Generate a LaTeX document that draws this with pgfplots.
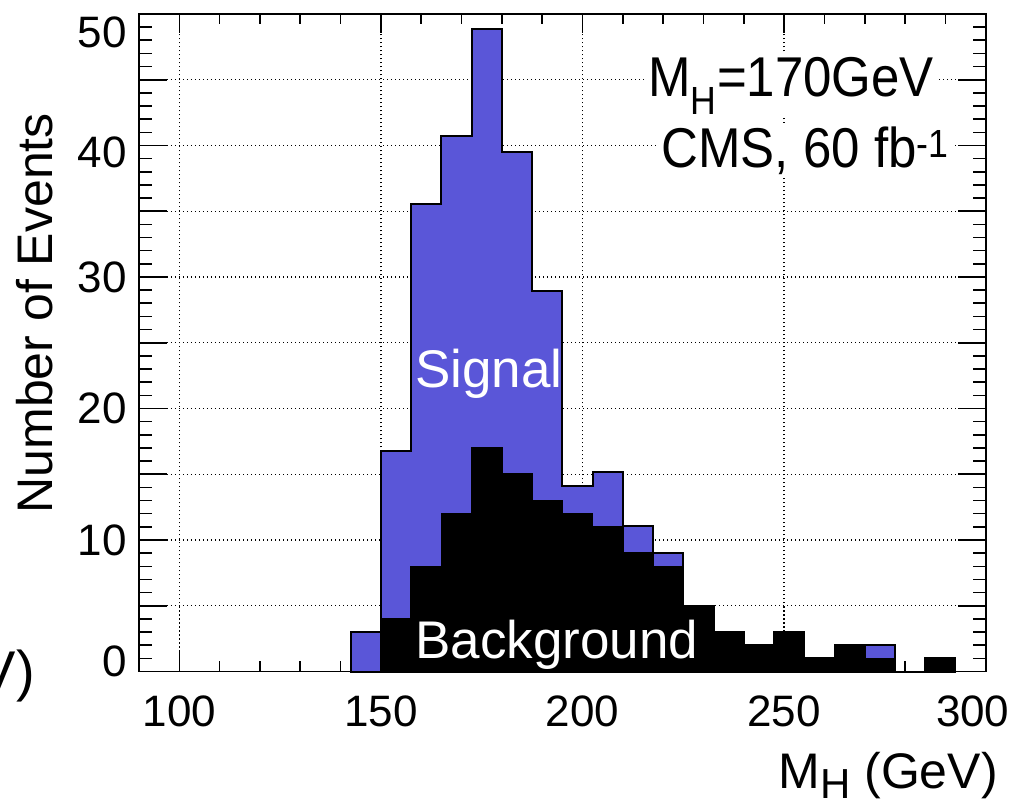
\documentclass[border=0pt]{standalone}
\usepackage{fontspec}
\setmainfont{Liberation Sans}
\usepackage{pgfplots}
\pgfplotsset{compat=1.18}
\definecolor{sigblue}{RGB}{90,86,216}

\begin{document}
\begin{tikzpicture}
\begin{axis}[
  name=ax,
  scale only axis, width=846.7pt, height=657.5pt,
  xmin=90, xmax=300, ymin=0, ymax=50,
  clip=false,
  axis line style={line width=1.8pt},
  xtick={100,150,200,250,300},
  xticklabels={100,150,200,250,\hspace*{-26pt}300},
  minor x tick num=4,
  ytick={0,5,...,50},
  yticklabels={\raisebox{10pt}[\height][\depth]{0},,10,,20,,30,,\raisebox{-7pt}[\height][\depth]{40},,\raisebox{-18pt}[\height][\depth]{50}},
  minor y tick num=4,
  tick align=inside,
  tick style={line width=1.6pt, black},
  x tick style={/pgfplots/major tick length=19pt,/pgfplots/minor tick length=10pt},
  y tick style={/pgfplots/major tick length=28pt,/pgfplots/minor tick length=13pt},
  grid=major,
  major grid style={black, line width=1.4pt, dash pattern=on 1.4pt off 2.6pt},
  tick label style={font=\fontsize{44}{50}\selectfont},
  xticklabel style={inner sep=0pt, yshift=-24pt},
  yticklabel style={inner sep=0pt, xshift=-12pt},
  label style={font=\fontsize{50}{56}\selectfont},
  xlabel={M\raisebox{-10pt}{\fontsize{42}{46}\selectfont H} (GeV)},
  xlabel style={at={(axis description cs:1.0145,-0.1787)}, anchor=base east, inner sep=0pt},
  ylabel={Number of Events},
  ylabel style={at={(axis description cs:-0.1016,0.8494)}, anchor=base east, inner sep=0pt},
]
% signal + background (total)
\addplot[const plot, fill=sigblue, draw=black, line width=2pt] coordinates {
(142.5,3) (150,16.74) (157.5,35.58) (165,40.73) (172.5,48.86) (180,39.47)
(187.5,28.93) (195,14.07) (202.5,15.19) (210,11.08) (217.5,9.0) (225,5)
(232.5,3) (240,2) (247.5,3) (255,1) (262.5,2) (270,2) (277.5,0) (285,1) (292.5,0)
} \closedcycle;
% background
\addplot[const plot, fill=black, draw=black, line width=1.5pt] coordinates {
(150,4) (157.5,8) (165,12) (172.5,17) (180,15) (187.5,13) (195,12) (202.5,11)
(210,9) (217.5,8) (225,5) (232.5,3) (240,2) (247.5,3) (255,1) (262.5,2) (270,1)
(277.5,0) (285,1) (292.5,0)
} \closedcycle;

\node[anchor=base east, fill=white, inner sep=4pt, font=\fontsize{51}{56}\selectfont]
  at (axis cs:288.2,43.7) {\scalebox{1}[1.1]{M\textsubscript{H}=170GeV}};
\node[anchor=base east, fill=white, inner sep=4pt, font=\fontsize{51}{56}\selectfont]
  at (axis cs:291.9,38.35) {\scalebox{1}[1.1]{CMS, 60 fb\textsuperscript{-1}}};
\node[anchor=base west, inner sep=0pt, text=white, font=\fontsize{53}{60}\selectfont]
  at (axis cs:158.5,21.57) {Signal};
\node[anchor=base west, inner sep=0pt, text=white, font=\fontsize{53}{60}\selectfont]
  at (axis cs:158.5,1.0) {Background};
\node[anchor=base east, inner sep=0pt, font=\fontsize{56}{60}\selectfont]
  at (axis cs:64.2,-1.41) {(GeV)};

\coordinate (bl) at (rel axis cs:0,0);
\coordinate (tr) at (rel axis cs:1,1);
\end{axis}
\pgfresetboundingbox
\path[use as bounding box] ([xshift=-139pt,yshift=-127.5pt]bl) rectangle ([xshift=32.3pt,yshift=14pt]tr);
\end{tikzpicture}
\end{document}
